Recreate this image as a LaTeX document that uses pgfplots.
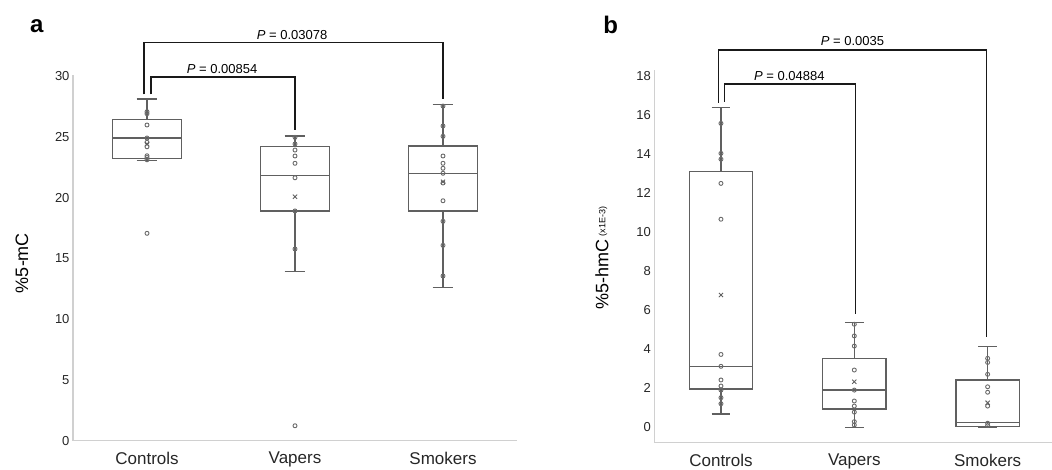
\documentclass[border=0pt]{standalone}
\usepackage{fontspec}
\setmainfont{Liberation Sans}
\usepackage{pgfplots}
\pgfplotsset{compat=1.18}
\usepgfplotslibrary{statistics}
\definecolor{boxgray}{HTML}{606060}
\definecolor{ptgray}{HTML}{6A6A6A}
\definecolor{axgray}{HTML}{D0D0D0}
\pgfplotsset{
  panel/.style={scale only axis, xmin=-0.5, xmax=2.5, xtick={0,1,2},
    xticklabels={Controls,Vapers,Smokers},
    axis x line*=bottom, axis y line*=left,
    axis line style={axgray, line width=1.5pt},
    major tick length=0pt, clip=false,
    boxplot/draw direction=y,
    tick label style={font=\fontsize{13}{15}\selectfont, text=black!85},
    xticklabel style={font=\fontsize{17}{20}\selectfont, yshift=-8pt},
    /pgf/number format/assume math mode=true},
  bx/.style={draw=boxgray, line width=1.4pt, solid},
  pts/.style={only marks, mark=o, mark size=2pt,
    mark options={draw=ptgray, line width=0.9pt}},
  mn/.style={only marks, mark=x, mark size=3pt,
    mark options={draw=boxgray, line width=0.9pt}},
}
\tikzset{
  br/.style={line width=1.6pt, black!90},
  plab/.style={font=\fontsize{13}{15}\selectfont},
}
\begin{document}
\begin{tikzpicture}
\useasboundingbox (0,0) rectangle (1052pt,-469pt);

% panel a
\begin{axis}[panel, anchor=south west, at={(73pt,-440.7pt)},
  width=444pt, height=365.9pt, ymin=0, ymax=30.1, ytick={0,5,...,30}]
\addplot[bx, boxplot prepared={draw position=0, median=24.9, upper quartile=26.43,
  lower quartile=23.23, upper whisker=28.1, lower whisker=23.06,
  box extend=0.47, whisker extend=0.14}] coordinates {};
\addplot[bx, boxplot prepared={draw position=1, median=21.83, upper quartile=24.18,
  lower quartile=18.9, upper whisker=25.06, lower whisker=13.93,
  box extend=0.47, whisker extend=0.14}] coordinates {};
\addplot[bx, boxplot prepared={draw position=2, median=22.0, upper quartile=24.24,
  lower quartile=18.9, upper whisker=27.67, lower whisker=12.59,
  box extend=0.47, whisker extend=0.14}] coordinates {};
\addplot[pts] coordinates {(0,27.06) (0,26.9) (0,25.97) (0,24.9) (0,24.55) (0,24.18)
  (0,23.44) (0,23.3) (0,23.11) (0,17.06)};
\addplot[pts] coordinates {(1,24.96) (1,24.41) (1,23.91) (1,23.42) (1,22.82) (1,21.63)
  (1,18.9) (1,15.77) (1,1.23)};
\addplot[pts] coordinates {(2,27.53) (2,25.89) (2,25.04) (2,23.42) (2,22.82) (2,22.41)
  (2,22.0) (2,21.2) (2,19.74) (2,18.05) (2,16.07) (2,13.55)};
\addplot[mn] coordinates {(0,24.4) (1,20.07) (2,21.3)};
\draw[br] (axis cs:-0.02,28.49) |- (axis cs:2.0,32.77) -- (axis cs:2.0,28.1);
\draw[br] (axis cs:0.025,28.49) |- (axis cs:1.0,29.94) -- (axis cs:1.0,25.56);
\node[plab] at (axis cs:0.98,33.4) {\textit{P} = 0.03078};
\node[plab] at (axis cs:0.507,30.6) {\textit{P} = 0.00854};
\end{axis}

% panel b
\begin{axis}[panel, anchor=south west, at={(654.3pt,-442.3pt)},
  width=400pt, height=372.7pt, ymin=-0.8, ymax=18.33, ytick={0,2,...,18}]
\addplot[bx, boxplot prepared={draw position=0, median=3.10, upper quartile=13.11,
  lower quartile=1.94, upper whisker=16.4, lower whisker=0.66,
  box extend=0.475, whisker extend=0.14}] coordinates {};
\addplot[bx, boxplot prepared={draw position=1, median=1.88, upper quartile=3.49,
  lower quartile=0.91, upper whisker=5.34, lower whisker=-0.05,
  box extend=0.475, whisker extend=0.14}] coordinates {};
\addplot[bx, boxplot prepared={draw position=2, median=0.22, upper quartile=2.40,
  lower quartile=0.0, upper whisker=4.11, lower whisker=-0.04,
  box extend=0.475, whisker extend=0.14}] coordinates {};
\addplot[pts] coordinates {(0,15.57) (0,14.03) (0,13.73) (0,12.49) (0,10.65) (0,3.71)
  (0,3.10) (0,2.40) (0,2.09) (0,1.88) (0,1.49) (0,1.18)};
\addplot[pts] coordinates {(1,5.26) (1,4.66) (1,4.14) (1,2.91) (1,1.88) (1,1.32)
  (1,1.06) (1,0.75) (1,0.26) (1,0.09)};
\addplot[pts] coordinates {(2,3.51) (2,3.30) (2,2.69) (2,2.05) (2,1.77) (2,1.06)
  (2,0.18) (2,0.06)};
\addplot[mn] coordinates {(0,6.76) (1,2.31) (2,1.23)};
\draw[br] (axis cs:-0.02,16.63) |- (axis cs:1.99,19.34) -- (axis cs:1.99,4.59);
\draw[br] (axis cs:0.025,16.68) |- (axis cs:1.008,17.58) -- (axis cs:1.008,5.79);
\node[plab] at (axis cs:0.986,19.8) {\textit{P} = 0.0035};
\node[plab] at (axis cs:0.513,18.0) {\textit{P} = 0.04884};
\end{axis}

\node[font=\bfseries\fontsize{24}{26}\selectfont] at (36.7pt,-26pt) {a};
\node[font=\bfseries\fontsize{24}{26}\selectfont] at (610.8pt,-25pt) {b};
\node[rotate=90, font=\fontsize{18}{20}\selectfont] at (22pt,-263pt) {\%5-mC};
\node[rotate=90, font=\fontsize{18}{20}\selectfont] at (602pt,-258pt)
  {\%5-hmC\,\raisebox{3pt}{\fontsize{9}{10}\selectfont(x1E-3)}};
\end{tikzpicture}
\end{document}
